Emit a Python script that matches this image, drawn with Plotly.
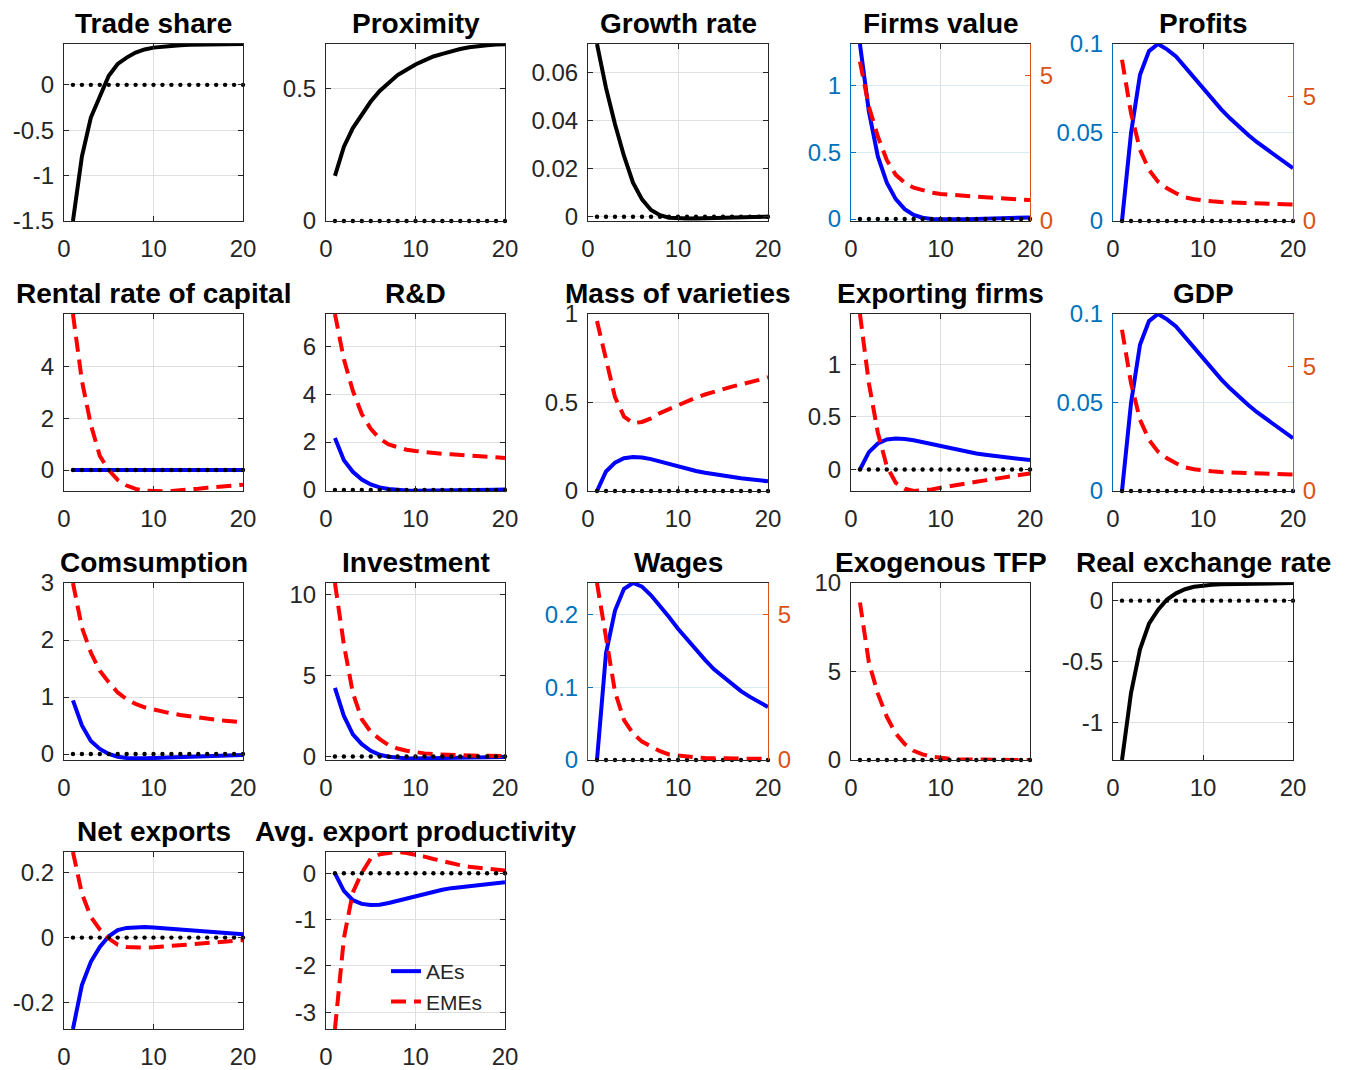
import plotly.graph_objects as go

# page is shown with an 8px body margin; figure pixels = page pixels - 8
OFF = 8
W, H = 1349 - OFF, 1070 - OFF
FONT = "Liberation Sans, Arial, Helvetica, sans-serif"

periods = list(range(1, 21))
zero_ref = [0, 0, 0, 0, 0, 0, 0, 0, 0, 0, 0, 0, 0, 0, 0, 0, 0, 0, 0, 0]

trade_share = [-1.50, -0.79, -0.36, -0.12, 0.10, 0.23, 0.30, 0.355, 0.39, 0.41,
               0.422, 0.43, 0.437, 0.441, 0.444, 0.446, 0.447, 0.448, 0.449, 0.450]
proximity = [0.17, 0.28, 0.35, 0.40, 0.45, 0.49, 0.52, 0.55, 0.57, 0.59,
             0.605, 0.62, 0.63, 0.64, 0.648, 0.655, 0.66, 0.662, 0.665, 0.666]
growth_rate = [0.072, 0.0537, 0.0385, 0.0253, 0.0142, 0.0072, 0.0028, 0.0006, -0.0004, -0.0007,
               -0.0008, -0.0008, -0.0007, -0.0006, -0.0005, -0.0004, -0.0003, -0.0002, -0.0001, 0.0]
firms_ae = [1.313, 0.806, 0.47, 0.273, 0.149, 0.074, 0.03, 0.01, 0.0, -0.003,
            -0.003, -0.002, -0.001, 0.0, 0.002, 0.004, 0.006, 0.008, 0.010, 0.012]
firms_eme = [5.49, 3.94, 2.91, 2.10, 1.59, 1.32, 1.15, 1.05, 0.98, 0.93,
             0.90, 0.87, 0.855, 0.84, 0.82, 0.80, 0.79, 0.77, 0.745, 0.72]
profits_ae = [0.0, 0.0496, 0.0826, 0.096, 0.100, 0.097, 0.093, 0.087, 0.0807, 0.0745,
              0.0689, 0.0632, 0.058, 0.053, 0.0487, 0.0445, 0.0408, 0.0374, 0.034, 0.0298]
profits_eme = [6.47, 4.33, 2.86, 2.05, 1.58, 1.31, 1.11, 0.95, 0.87, 0.82,
               0.79, 0.76, 0.74, 0.72, 0.71, 0.70, 0.69, 0.68, 0.67, 0.66]
rental_ae = [0, 0, 0, 0, 0, 0, 0, 0, 0, 0, 0, 0, 0, 0, 0, 0, 0, 0, 0, 0]
rental_eme = [6.03, 3.45, 1.75, 0.55, 0.0, -0.38, -0.60, -0.73, -0.80, -0.82,
              -0.82, -0.81, -0.79, -0.76, -0.72, -0.68, -0.66, -0.63, -0.60, -0.57]
rd_ae = [2.17, 1.24, 0.76, 0.44, 0.23, 0.11, 0.04, 0.0, -0.02, -0.025,
         -0.025, -0.02, -0.015, -0.01, -0.005, 0.0, 0.005, 0.01, 0.015, 0.02]
rd_eme = [7.34, 5.45, 4.14, 3.17, 2.55, 2.14, 1.90, 1.77, 1.68, 1.63,
          1.58, 1.54, 1.51, 1.49, 1.46, 1.43, 1.41, 1.39, 1.36, 1.34]
mass_ae = [0.0, 0.11, 0.16, 0.185, 0.192, 0.189, 0.18, 0.166, 0.153, 0.138,
           0.125, 0.113, 0.103, 0.094, 0.086, 0.079, 0.072, 0.066, 0.060, 0.055]
mass_eme = [0.96, 0.74, 0.53, 0.42, 0.383, 0.39, 0.41, 0.44, 0.462, 0.487,
            0.508, 0.528, 0.545, 0.562, 0.577, 0.59, 0.602, 0.613, 0.628, 0.643]
exporting_ae = [0.0, 0.165, 0.247, 0.285, 0.294, 0.291, 0.278, 0.26, 0.24, 0.22,
                0.202, 0.184, 0.167, 0.152, 0.14, 0.13, 0.119, 0.108, 0.098, 0.089]
exporting_eme = [1.48, 0.82, 0.35, 0.03, -0.127, -0.184, -0.205, -0.2, -0.19, -0.174,
                 -0.158, -0.142, -0.13, -0.117, -0.104, -0.092, -0.081, -0.07, -0.054, -0.038]
gdp_ae = [0.0, 0.0496, 0.0826, 0.096, 0.100, 0.097, 0.093, 0.087, 0.0807, 0.0745,
          0.0689, 0.0632, 0.058, 0.053, 0.0487, 0.0445, 0.0408, 0.0374, 0.034, 0.0298]
gdp_eme = [6.47, 4.33, 2.86, 2.05, 1.58, 1.31, 1.11, 0.95, 0.87, 0.82,
           0.79, 0.76, 0.74, 0.72, 0.71, 0.70, 0.69, 0.68, 0.67, 0.66]
consumption_ae = [0.94, 0.50, 0.23, 0.09, 0.0, -0.047, -0.07, -0.076, -0.076, -0.07,
                  -0.064, -0.058, -0.052, -0.047, -0.041, -0.035, -0.032, -0.03, -0.024, -0.018]
consumption_eme = [3.0, 2.22, 1.78, 1.46, 1.26, 1.08, 0.96, 0.88, 0.82, 0.78,
                   0.745, 0.71, 0.685, 0.66, 0.635, 0.61, 0.6, 0.585, 0.57, 0.556]
investment_ae = [4.24, 2.5, 1.37, 0.76, 0.35, 0.1, -0.02, -0.1, -0.12, -0.12,
                 -0.11, -0.1, -0.09, -0.08, -0.07, -0.06, -0.05, -0.04, -0.04, -0.04]
investment_eme = [10.72, 6.9, 3.93, 2.3, 1.52, 1.07, 0.7, 0.49, 0.35, 0.25,
                  0.19, 0.14, 0.11, 0.08, 0.06, 0.04, 0.04, 0.04, 0.03, 0.02]
wages_ae = [0.0, 0.147, 0.206, 0.236, 0.244, 0.239, 0.227, 0.213, 0.197, 0.181,
            0.166, 0.151, 0.138, 0.125, 0.115, 0.105, 0.095, 0.087, 0.080, 0.073]
wages_eme = [6.07, 4.1, 2.34, 1.37, 0.91, 0.63, 0.46, 0.30, 0.19, 0.15,
             0.12, 0.09, 0.07, 0.057, 0.05, 0.046, 0.046, 0.046, 0.046, 0.046]
tfp_eme = [8.9, 5.5, 3.75, 2.44, 1.5, 0.9, 0.52, 0.32, 0.19, 0.11,
           0.07, 0.04, 0.025, 0.015, 0.01, 0.006, 0.004, 0.002, 0.001, 0.0]
rer = [-1.31, -0.76, -0.40, -0.19, -0.077, 0.009, 0.06, 0.094, 0.114, 0.125,
       0.13, 0.134, 0.135, 0.136, 0.138, 0.139, 0.14, 0.142, 0.143, 0.145]
netx_ae = [-0.283, -0.147, -0.075, -0.029, 0.004, 0.023, 0.03, 0.033, 0.033, 0.031,
           0.029, 0.026, 0.023, 0.021, 0.018, 0.016, 0.015, 0.013, 0.011, 0.010]
netx_eme = [0.265, 0.136, 0.064, 0.025, -0.003, -0.022, -0.029, -0.031, -0.031, -0.030,
            -0.028, -0.026, -0.024, -0.022, -0.02, -0.017, -0.015, -0.013, -0.01, -0.008]
avgexp_ae = [0.0, -0.38, -0.58, -0.66, -0.686, -0.68, -0.64, -0.59, -0.54, -0.486,
             -0.44, -0.39, -0.355, -0.32, -0.295, -0.27, -0.25, -0.23, -0.21, -0.19]
avgexp_eme = [-3.36, -1.4, -0.41, 0.01, 0.32, 0.41, 0.44, 0.457, 0.44, 0.41,
              0.36, 0.31, 0.26, 0.21, 0.175, 0.14, 0.12, 0.10, 0.08, 0.06]

x_ticks = [0, 10, 20]

panels = [
    dict(title="Trade share", r=0, c=0, yr=[-1.5, 0.45], yt=[-1.5, -1, -0.5, 0], black=trade_share),
    dict(title="Proximity", r=0, c=1, yr=[0, 0.667], yt=[0, 0.5], black=proximity),
    dict(title="Growth rate", r=0, c=2, yr=[-0.0018, 0.072], yt=[0, 0.02, 0.04, 0.06], black=growth_rate),
    dict(title="Firms value", r=0, c=3, yr=[-0.015, 1.313], yt=[0, 0.5, 1], ae=firms_ae, eme=firms_eme,
         yr2=[0, 6.1], yt2=[0, 5]),
    dict(title="Profits", r=0, c=4, yr=[0, 0.1], yt=[0, 0.05, 0.1], ae=profits_ae, eme=profits_eme,
         yr2=[0, 7.1], yt2=[0, 5]),
    dict(title="Rental rate of capital", r=1, c=0, yr=[-0.81, 6.03], yt=[0, 2, 4], ae=rental_ae, eme=rental_eme),
    dict(title="R&D", r=1, c=1, yr=[-0.04, 7.34], yt=[0, 2, 4, 6], ae=rd_ae, eme=rd_eme),
    dict(title="Mass of varieties", r=1, c=2, yr=[0, 1], yt=[0, 0.5, 1], ae=mass_ae, eme=mass_eme),
    dict(title="Exporting firms", r=1, c=3, yr=[-0.205, 1.48], yt=[0, 0.5, 1], ae=exporting_ae, eme=exporting_eme),
    dict(title="GDP", r=1, c=4, yr=[0, 0.1], yt=[0, 0.05, 0.1], ae=gdp_ae, eme=gdp_eme,
         yr2=[0, 7.1], yt2=[0, 5]),
    dict(title="Comsumption", r=2, c=0, yr=[-0.105, 3.0], yt=[0, 1, 2, 3], ae=consumption_ae, eme=consumption_eme),
    dict(title="Investment", r=2, c=1, yr=[-0.22, 10.72], yt=[0, 5, 10], ae=investment_ae, eme=investment_eme),
    dict(title="Wages", r=2, c=2, yr=[0, 0.244], yt=[0, 0.1, 0.2], ae=wages_ae, eme=wages_eme,
         yr2=[0, 6.07], yt2=[0, 5]),
    dict(title="Exogenous TFP", r=2, c=3, yr=[0, 10], yt=[0, 5, 10], eme=tfp_eme),
    dict(title="Real exchange rate", r=2, c=4, yr=[-1.31, 0.145], yt=[-1, -0.5, 0], black=rer),
    dict(title="Net exports", r=3, c=0, yr=[-0.283, 0.265], yt=[-0.2, 0, 0.2], ae=netx_ae, eme=netx_eme),
    dict(title="Avg. export productivity", r=3, c=1, yr=[-3.36, 0.46], yt=[-3, -2, -1, 0],
         ae=avgexp_ae, eme=avgexp_eme, legend=True),
]

# page-pixel edges of the axes boxes
col_px = [(64, 243), (326, 505), (588, 768), (851, 1030), (1113, 1293)]
row_px = [(44, 221), (314, 491), (583, 760), (852, 1029)]

BLUE, RED, BLACK = "#0000FF", "#FF0000", "#000000"
LEFTC, RIGHTC = "#0072BD", "#D95319"
AXC = "#262626"
GRID = "#dfdfdf"
GRID_DUAL = "#d9eaf5"
LW = 4.0
TICKF = 24


def fmt(v):
    return f"{v:g}"


def px_x(p):
    return (p - OFF) / W


def px_y(p):
    return 1 - (p - OFF) / H


fig = go.Figure()
layout = dict(
    template="none",
    width=W, height=H, margin=dict(l=0, r=0, t=0, b=0, pad=0, autoexpand=False),
    paper_bgcolor="white", plot_bgcolor="white",
    font=dict(family=FONT, color=AXC, size=TICKF),
    showlegend=True,
    legend=dict(x=px_x(386), y=px_y(951), xanchor="left", yanchor="top",
                bgcolor="rgba(0,0,0,0)", borderwidth=0,
                font=dict(family=FONT, size=21, color=AXC), tracegroupgap=0),
    annotations=[],
)

sec_id = 18
for i, p in enumerate(panels, start=1):
    xs = "x" if i == 1 else f"x{i}"
    ys = "y" if i == 1 else f"y{i}"
    xk = "xaxis" if i == 1 else f"xaxis{i}"
    yk = "yaxis" if i == 1 else f"yaxis{i}"
    x0, x1 = col_px[p["c"]]
    y0, y1 = row_px[p["r"]]
    dual = "yr2" in p
    layout[xk] = dict(
        domain=[px_x(x0), px_x(x1)], anchor=ys, range=[0, 20], tickvals=x_ticks,
        ticktext=[fmt(v) for v in x_ticks], showgrid=True, gridcolor=GRID, gridwidth=1,
        zeroline=False, showline=True, linecolor=AXC, linewidth=1, mirror="ticks",
        ticks="inside", ticklen=5, tickcolor=AXC, tickfont=dict(size=TICKF, color=AXC, family=FONT),
        ticklabelstandoff=6, automargin=False,
    )
    layout[yk] = dict(
        domain=[px_y(y1), px_y(y0)], anchor=xs, range=p["yr"], tickvals=p["yt"],
        ticktext=[fmt(v) for v in p["yt"]], showgrid=True,
        gridcolor=GRID_DUAL if dual else GRID, gridwidth=1,
        zeroline=False, showline=True, linecolor=LEFTC if dual else AXC, linewidth=1,
        mirror=False if dual else "ticks", ticks="inside", ticklen=5,
        tickcolor=LEFTC if dual else AXC,
        tickfont=dict(size=TICKF, color=LEFTC if dual else AXC, family=FONT),
        ticklabelstandoff=4, automargin=False,
    )
    if dual:
        sk = f"yaxis{sec_id}"
        layout[sk] = dict(
            overlaying=ys, anchor=xs, side="right", range=p["yr2"], tickvals=p["yt2"],
            ticktext=[fmt(v) for v in p["yt2"]], showgrid=False, zeroline=False,
            showline=True, linecolor=RIGHTC, linewidth=1, ticks="inside", ticklen=5,
            tickcolor=RIGHTC, tickfont=dict(size=TICKF, color=RIGHTC, family=FONT),
            ticklabelstandoff=4, automargin=False,
        )
        ys2 = f"y{sec_id}"
        sec_id += 1
    else:
        ys2 = ys

    if "black" in p:
        fig.add_trace(go.Scatter(x=periods, y=p["black"], mode="lines", xaxis=xs, yaxis=ys,
                                 line=dict(color=BLACK, width=LW), showlegend=False))
    if "ae" in p:
        fig.add_trace(go.Scatter(x=periods, y=p["ae"], mode="lines", xaxis=xs, yaxis=ys,
                                 name="AEs", line=dict(color=BLUE, width=LW),
                                 showlegend=bool(p.get("legend"))))
    if "eme" in p:
        fig.add_trace(go.Scatter(x=periods, y=p["eme"], mode="lines", xaxis=xs, yaxis=ys2,
                                 name="EMEs", line=dict(color=RED, width=LW, dash="15px,8px"),
                                 showlegend=bool(p.get("legend"))))
    fig.add_trace(go.Scatter(x=periods, y=zero_ref, mode="markers", xaxis=xs, yaxis=ys,
                             marker=dict(color=BLACK, size=4.4, line=dict(width=0)), cliponaxis=False,
                             showlegend=False, hoverinfo="skip"))

    layout["annotations"].append(dict(
        text=f"<b>{p['title']}</b>", x=px_x((x0 + x1) / 2), y=px_y(y0 - 21),
        xref="paper", yref="paper", xanchor="center", yanchor="middle", showarrow=False,
        font=dict(family=FONT, size=28, color="#000000"),
    ))

fig.update_layout(**layout)
fig.write_html("out.html")
